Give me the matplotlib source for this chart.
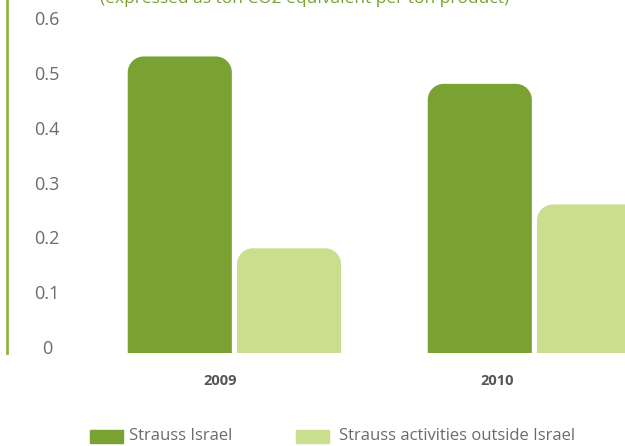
import numpy as np
import matplotlib
matplotlib.use("Agg")
import matplotlib.pyplot as plt
from matplotlib.path import Path
from matplotlib.patches import PathPatch, Rectangle

# Emission intensity, ton CO2e per ton product
years = ["2009", "2010"]
strauss_israel = [0.53, 0.48]
outside_israel = [0.18, 0.26]
y_ticks = [0, 0.1, 0.2, 0.3, 0.4, 0.5, 0.6]
series_names = ["Strauss Israel", "Strauss activities outside Israel"]
subtitle = "(expressed as ton CO2 equivalent per ton product)"

DARK = "#79a232"
LIGHT = "#c9df8e"
AXIS_GREEN = "#8cb645"
GREY = "#6b6b6b"

plt.rcParams["font.family"] = ["Open Sans", "DejaVu Sans"]

W, H = 625, 446
fig = plt.figure(figsize=(W / 100, H / 100), dpi=100)
ax = fig.add_axes([7 / W, (H - 353) / H, 1 - 7 / W, 353 / H])

floor = -0.011
ax.set_ylim(floor, 0.633)
ax.set_xlim(-0.758, 1.302)

x = np.arange(len(years))
width = 0.347
step = 0.182

def rounded_top(x0, y0, w, h, rx, ry):
    k = 0.5523
    top = y0 + h
    verts = [
        (x0, y0), (x0, top - ry),
        (x0, top - ry + k * ry), (x0 + rx - k * rx, top), (x0 + rx, top),
        (x0 + w - rx, top),
        (x0 + w - rx + k * rx, top), (x0 + w, top - ry + k * ry), (x0 + w, top - ry),
        (x0 + w, y0), (x0, y0),
    ]
    codes = [Path.MOVETO, Path.LINETO,
             Path.CURVE4, Path.CURVE4, Path.CURVE4,
             Path.LINETO,
             Path.CURVE4, Path.CURVE4, Path.CURVE4,
             Path.LINETO, Path.CLOSEPOLY]
    return Path(verts, codes)

# corner radius of 16 px converted to data units on each axis
fig.canvas.draw()
p0 = ax.transData.transform((0, 0))
p1 = ax.transData.transform((1, 1))
rx = 16 / (p1[0] - p0[0])
ry = 16 / (p1[1] - p0[1])

for vals, off, color in [(strauss_israel, -step, DARK), (outside_israel, step, LIGHT)]:
    bars = ax.bar(x + off, np.array(vals) - floor, width, bottom=floor, color=color)
    for b in bars:
        b.set_visible(False)
        ax.add_patch(PathPatch(rounded_top(b.get_x(), b.get_y(), b.get_width(),
                                           b.get_height(), rx, ry),
                               facecolor=color, edgecolor="none", clip_on=False))

# spines: only the green left rule
for side in ["top", "right", "bottom"]:
    ax.spines[side].set_visible(False)
ax.spines["left"].set_color(AXIS_GREEN)
ax.spines["left"].set_linewidth(2)

ax.set_yticks(y_ticks)
ax.set_yticklabels([f"{v:g}" for v in y_ticks])
ax.tick_params(axis="y", length=0, pad=-29, labelsize=13, labelcolor=GREY)
for lbl in ax.get_yticklabels():
    lbl.set_horizontalalignment("center")

# year labels sit a little left of each group
ax.set_xticks([-0.048, 0.875])
ax.set_xticklabels(years, fontweight="bold")
ax.tick_params(axis="x", length=0, pad=15, labelsize=10.5, labelcolor="#555555")

# subtitle runs off the top edge
ax.text(305 / W, 1 - 3 / H, subtitle, transform=fig.transFigure, ha="center",
        va="baseline", color=DARK, fontsize=12.5)

# legend
legend_items = [(90, 129, DARK, series_names[0]), (296, 339, LIGHT, series_names[1])]
for px, tx, color, name in legend_items:
    fig.add_artist(Rectangle((px / W, (H - 443) / H), 33 / W, 13 / H,
                             transform=fig.transFigure, color=color))
    fig.text(tx / W, (H - 436) / H, name, va="center", ha="left",
             color=GREY, fontsize=12)

fig.savefig("out.png", dpi=100)
